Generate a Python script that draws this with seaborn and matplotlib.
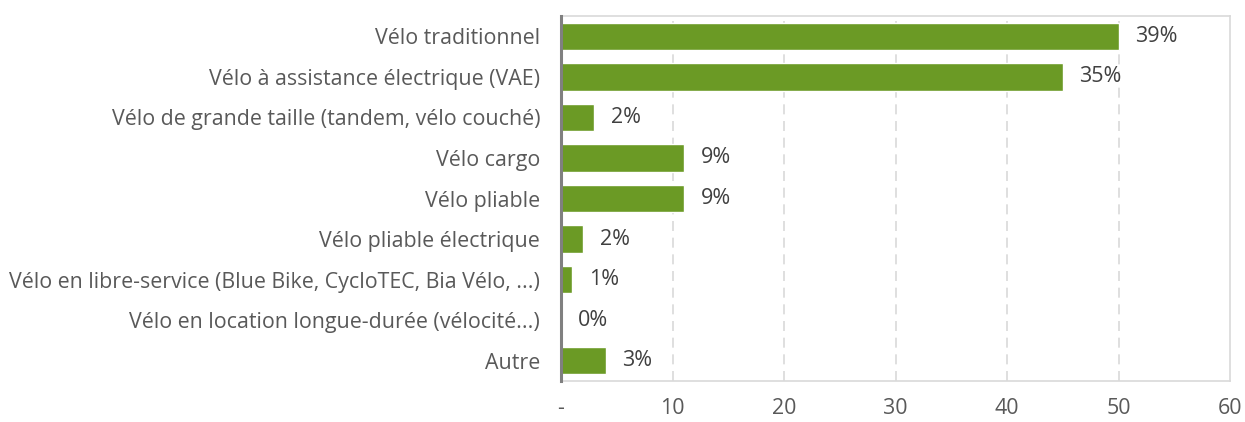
import matplotlib
matplotlib.use("Agg")
import matplotlib.pyplot as plt
import seaborn as sns
import pandas as pd

categories = [
    "Vélo traditionnel",
    "Vélo à assistance électrique (VAE)",
    "Vélo de grande taille (tandem, vélo couché)",
    "Vélo cargo",
    "Vélo pliable",
    "Vélo pliable électrique",
    "Vélo en libre-service (Blue Bike, CycloTEC, Bia Vélo, ...)",
    "Vélo en location longue-durée (vélocité...)",
    "Autre",
]
counts = [50, 45, 3, 11, 11, 2, 1, 0, 4]
pct_labels = ["39%", "35%", "2%", "9%", "9%", "2%", "1%", "0%", "3%"]
xticks = [0, 10, 20, 30, 40, 50, 60]
xtick_labels = ["-", "10", "20", "30", "40", "50", "60"]

df = pd.DataFrame({"cat": categories, "n": counts})

sns.set_theme(style="white")
plt.rcParams["font.family"] = ["Open Sans", "DejaVu Sans"]

fig = plt.figure(figsize=(12.45, 4.22), dpi=100)
ax = fig.add_axes([0.4506, 0.0972, 0.9880 - 0.4506, 0.962 - 0.0972])

sns.barplot(data=df, x="n", y="cat", orient="h", color="#6b9a25",
            saturation=1, width=0.68, ax=ax, zorder=3)

ax.set_xlim(0, 60)
ax.set_ylim(len(categories) - 0.5, -0.5)
ax.set_xticks(xticks)
ax.set_xticklabels(xtick_labels)
ax.set_xlabel("")
ax.set_ylabel("")

for x in xticks[1:-1]:
    ax.axvline(x, color="#d9d9d9", lw=1.2, ls=(0, (6, 4)), zorder=1)

for s in ["top", "right", "bottom"]:
    ax.spines[s].set_color("#d9d9d9")
    ax.spines[s].set_linewidth(1.2)
ax.spines["left"].set_color("#808080")
ax.spines["left"].set_linewidth(2.2)
ax.spines["left"].set_zorder(4)

ax.tick_params(axis="both", length=0, labelsize=15.4, labelcolor="#595959")
ax.tick_params(axis="y", pad=15)
ax.tick_params(axis="x", pad=12)

for i, (v, lab) in enumerate(zip(counts, pct_labels)):
    ax.text(v + 1.5, i, lab, va="center", ha="left", fontsize=15.5, color="#404040")

fig.savefig("out.png", dpi=100)
